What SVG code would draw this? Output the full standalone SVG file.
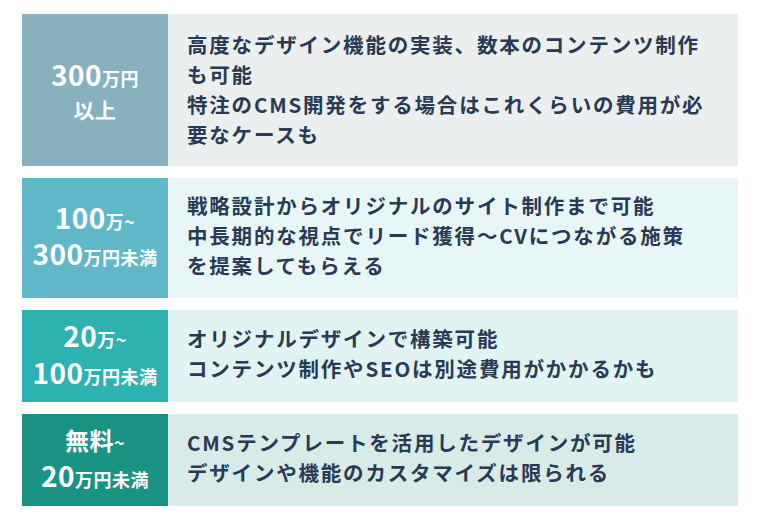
<svg xmlns="http://www.w3.org/2000/svg" width="760" height="520" viewBox="0 0 760 520">
<style>
.b{font-family:"Noto Sans CJK JP","Noto Sans",sans-serif;font-weight:700;font-size:20.5px;letter-spacing:1.8px;fill:#283a55}
.l{font-family:"Noto Sans CJK JP","Noto Sans",sans-serif;font-weight:700;fill:#fff;text-anchor:middle;letter-spacing:0.5px}
.n{font-size:28px}.s{font-size:18px}
</style>
<rect width="760" height="520" fill="#fff"/>
<g id="row1">
<rect x="22" y="14" width="146" height="152" fill="#86b1bd"/>
<rect x="168" y="14" width="570" height="152" fill="#ebeff0"/>
<text class="l" x="95" y="86"><tspan class="n">300</tspan><tspan class="s">万円</tspan></text>
<text class="l" x="95" y="118" style="font-size:21px">以上</text>
<text class="b" x="187" y="53">高度なデザイン機能の実装、数本のコンテンツ制作</text>
<text class="b" x="187" y="83">も可能</text>
<text class="b" x="187" y="113">特注のCMS開発をする場合はこれくらいの費用が必</text>
<text class="b" x="187" y="143">要なケースも</text>
</g>
<g id="row2">
<rect x="22" y="178" width="146" height="120" fill="#5fb7c7"/>
<rect x="168" y="178" width="570" height="120" fill="#e8f6f8"/>
<text class="l" x="95" y="229"><tspan class="n">100</tspan><tspan class="s">万~</tspan></text>
<text class="l" x="95" y="265"><tspan class="n">300</tspan><tspan class="s">万円未満</tspan></text>
<text class="b" x="187" y="214">戦略設計からオリジナルのサイト制作まで可能</text>
<text class="b" x="187" y="244">中長期的な視点でリード獲得〜CVにつながる施策</text>
<text class="b" x="187" y="274">を提案してもらえる</text>
</g>
<g id="row3">
<rect x="22" y="310" width="146" height="92" fill="#2eb1b1"/>
<rect x="168" y="310" width="570" height="92" fill="#e2f3f3"/>
<text class="l" x="95" y="347"><tspan class="n">20</tspan><tspan class="s">万~</tspan></text>
<text class="l" x="95" y="384"><tspan class="n">100</tspan><tspan class="s">万円未満</tspan></text>
<text class="b" x="187" y="347">オリジナルデザインで構築可能</text>
<text class="b" x="187" y="377">コンテンツ制作やSEOは別途費用がかかるかも</text>
</g>
<g id="row4">
<rect x="22" y="414" width="146" height="92" fill="#1a9383"/>
<rect x="168" y="414" width="570" height="92" fill="#d9ebe8"/>
<text class="l" x="95" y="450"><tspan style="font-size:24px">無料</tspan><tspan class="s">~</tspan></text>
<text class="l" x="95" y="487"><tspan class="n">20</tspan><tspan class="s">万円未満</tspan></text>
<text class="b" x="187" y="451">CMSテンプレートを活用したデザインが可能</text>
<text class="b" x="187" y="481">デザインや機能のカスタマイズは限られる</text>
</g>
<g id="connectors"/>
</svg>
